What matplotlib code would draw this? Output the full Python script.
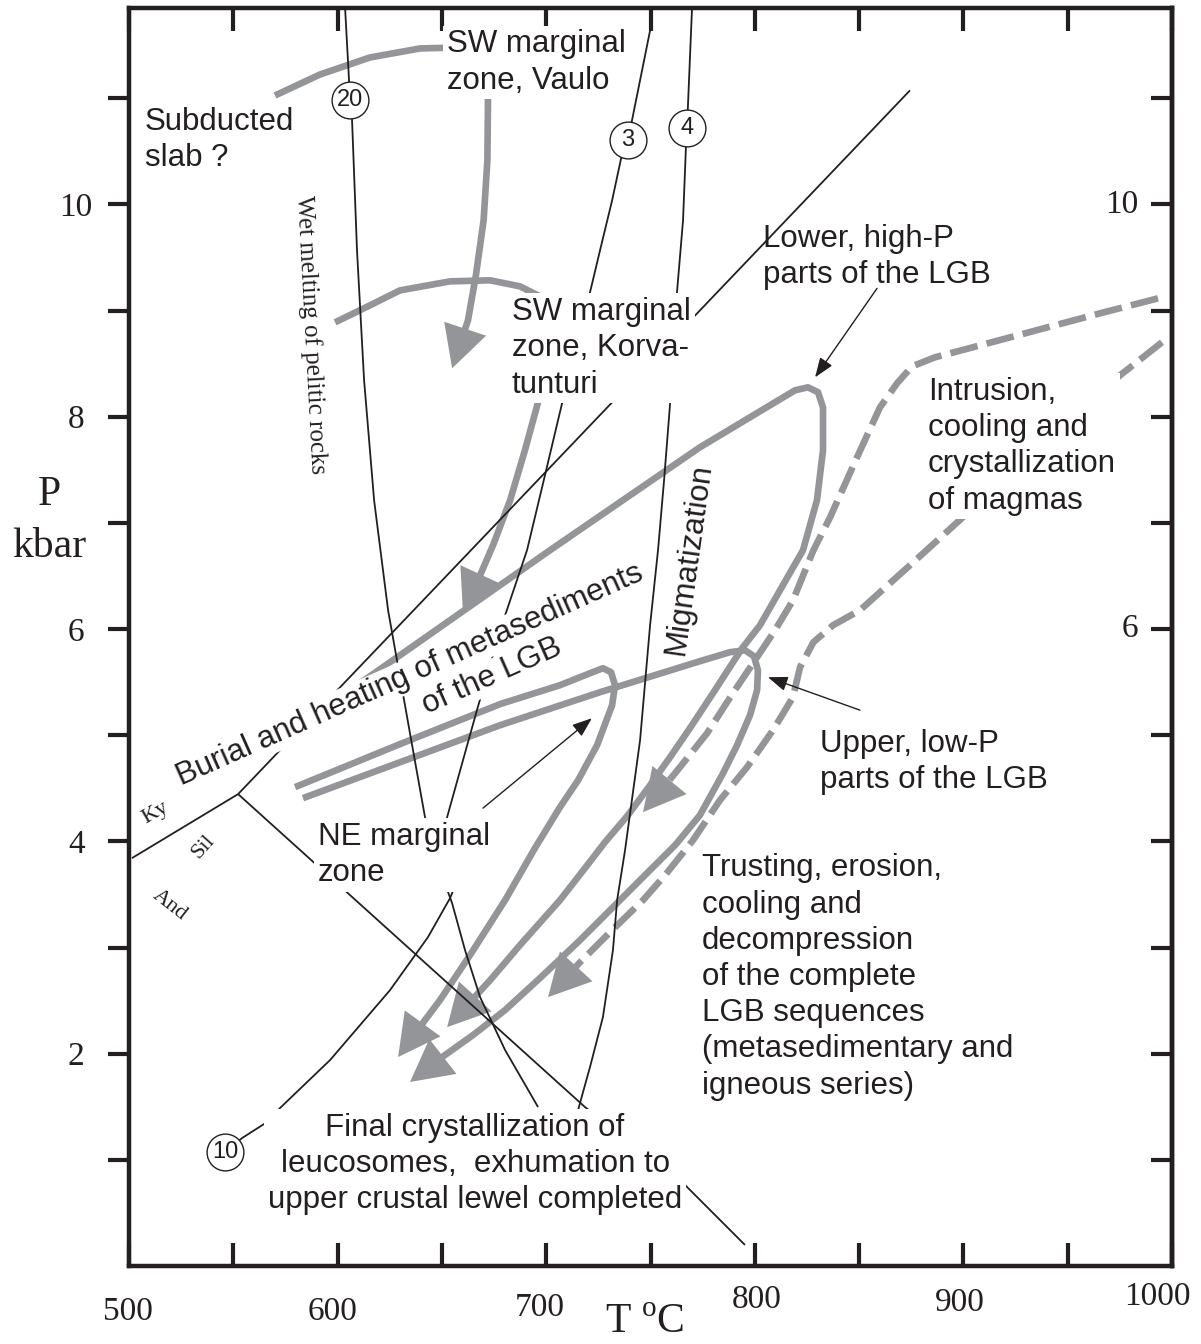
import numpy as np
import matplotlib
matplotlib.use("Agg")
import matplotlib.pyplot as plt
from matplotlib.transforms import blended_transform_factory

GRAY = "#939598"
INK = "#231f20"
SANS = ["Liberation Sans", "DejaVu Sans"]
SERIF = ["Liberation Serif", "DejaVu Serif"]
plt.rcParams["mathtext.fontset"] = "custom"
plt.rcParams["mathtext.rm"] = "Liberation Serif"

# ---------------- axes ----------------
T_MIN, T_MAX = 500, 1000
P_MIN, P_MAX = 0.0, 11.85
x_major = [500, 600, 700, 800, 900, 1000]
x_minor = [550, 650, 750, 850, 950]
x_labels = ["500", "600", "700", "800", "900", "1000"]
x_label_T = [499.5, 597.8, 697.0, 801.1, 898.4, 992.8]       # hand-lettered label positions
x_label_fy = [0.0238, 0.0238, 0.0268, 0.0327, 0.0305, 0.0350]  # figure fraction (label centres)
y_major = [2, 4, 6, 8, 10]
y_minor = [1, 3, 5, 7, 9, 11]
right_ticks = [1, 2, 3, 4, 5, 6, 7, 8, 9, 10, 11]
right_labels = ["10", "6"]
right_label_P = [10.0, 6.0]
right_label_x = [0.952, 0.960]

# ---------------- black reaction lines (T degC, P kbar) ----------------
line20_T = [603.6, 606.0, 606.9, 609.3, 612.7, 617.5, 624.2, 634.7, 641.9, 649.1, 654.9, 661.1, 668.3, 680.3, 696.1]
line20_P = [11.846, 10.979, 10.810, 9.567, 8.343, 7.213, 6.177, 5.018, 4.228, 3.729, 3.417, 2.975, 2.533, 2.034, 1.497]
line3_T = [749.8, 739.2, 735.9, 731.6, 725.8, 721.0, 714.3, 707.6, 699.4, 690.8, 677.9, 666.8, 652.5, 649.1]
line3_P = [11.638, 10.603, 10.433, 10.038, 9.567, 9.172, 8.625, 8.126, 7.448, 6.742, 5.989, 5.236, 4.228, 3.823]
line4_T = [769.9, 767.5, 767.0, 765.6, 762.7, 760.8, 759.4, 756.5, 753.6, 749.8, 745.0, 737.8, 734.0, 732.0, 727.2, 721.0, 716.2, 715.3]
line4_P = [11.846, 10.716, 10.546, 9.850, 9.172, 8.625, 8.126, 7.401, 6.742, 6.036, 4.952, 3.917, 3.446, 2.975, 2.345, 1.874, 1.535, 1.469]
line10_T = [546.0, 554.2, 566.2, 572.4, 596.4, 625.1, 643.3, 653.9, 659.6]
line10_P = [1.073, 1.205, 1.356, 1.488, 1.940, 2.598, 3.097, 3.465, 3.729]
ky_and_T = [501.4, 552.3]
ky_and_P = [3.842, 4.445]
ky_sil_T = [552.3, 874.4]
ky_sil_P = [4.445, 11.074]
sil_and_T = [552.3, 718.6, 765.6, 795.3]
sil_and_P = [4.445, 1.497, 0.782, 0.198]

circle_labels = ["20", "3", "4", "10"]
circle_T = [606.0, 739.2, 767.5, 546.0]
circle_P = [10.979, 10.603, 10.716, 1.073]

# ---------------- grey P-T paths ----------------
vaulo_T = [570.0, 591.6, 615.5, 639.5, 658.7, 669.7, 672.1, 671.8, 670.0, 666.3, 662.5]
vaulo_P = [11.026, 11.224, 11.384, 11.469, 11.478, 11.337, 10.979, 10.414, 9.850, 9.332, 8.908]
vaulo_tip = (654.9, 8.456)

korva_T = [598.8, 615.5, 629.9, 653.9, 673.1, 687.4, 697.0, 703.3, 702.8, 697.0, 689.8, 682.7, 674.5, 668.3]
korva_P = [8.889, 9.049, 9.190, 9.275, 9.285, 9.228, 9.134, 8.908, 8.531, 8.202, 7.684, 7.213, 6.789, 6.507]
korva_tip = (660.1, 6.158)

highP_T = [582.0, 701.8, 773.7, 809.7, 819.3, 825.5, 830.3, 832.7, 832.7, 829.8, 823.1, 812.1, 802.5,
           793.9, 780.9, 768.9, 759.4, 749.8, 739.2, 728.2, 718.6, 706.6, 687.4, 673.1, 663.5]
highP_P = [5.094, 6.742, 7.712, 8.136, 8.249, 8.277, 8.230, 8.088, 7.684, 7.213, 6.742, 6.366, 6.036,
           5.819, 5.424, 5.066, 4.793, 4.529, 4.247, 3.993, 3.748, 3.446, 3.022, 2.692, 2.486]
highP_tip = (652.5, 2.250)

lowP_T = [583.4, 677.9, 725.8, 773.7, 788.1, 795.3, 799.6, 801.5, 801.1, 797.7, 791.5, 784.8, 773.7,
          761.8, 749.8, 735.4, 716.2, 697.0, 680.3, 664.9, 650.1]
lowP_P = [4.407, 5.094, 5.405, 5.697, 5.782, 5.800, 5.744, 5.612, 5.424, 5.188, 4.906, 4.642, 4.247,
          3.964, 3.729, 3.446, 3.069, 2.712, 2.411, 2.175, 1.968]
lowP_tip = (634.7, 1.733)

ne_T = [579.6, 629.9, 677.9, 706.6, 721.0, 727.2, 731.1, 733.0, 731.6, 724.4, 715.3, 706.6, 694.6,
        680.3, 663.5, 649.1, 641.9]
ne_P = [4.511, 4.916, 5.293, 5.471, 5.584, 5.631, 5.593, 5.471, 5.283, 4.906, 4.576, 4.322, 3.936,
        3.446, 2.929, 2.505, 2.316]
ne_tip = (629.0, 1.968)

inner_T = [993.3, 965.5, 936.7, 908.0, 886.4, 875.4, 868.2, 860.0, 849.0, 836.1, 828.1, 818.3, 809.7,
           801.1, 789.5, 777.1, 761.8]
inner_P = [9.115, 8.974, 8.823, 8.672, 8.560, 8.474, 8.315, 8.088, 7.617, 7.053, 6.742, 6.271, 5.989,
           5.735, 5.396, 5.018, 4.642]
inner_tip = (746.4, 4.275)

outer_T = [995.2, 975.1, 936.7, 900.8, 874.4, 850.4, 837.5, 828.1, 821.7, 818.3, 808.7, 796.3, 783.3,
           770.4, 757.0, 746.4, 730.6, 716.2]
outer_P = [8.701, 8.390, 7.712, 7.072, 6.601, 6.177, 6.036, 5.876, 5.641, 5.358, 5.047, 4.699, 4.388,
           4.011, 3.682, 3.446, 3.144, 2.861]
outer_tip = (700.9, 2.533)

# ---------------- pointer arrows ----------------
ptr_from_T = [858.6, 850.4, 669.7]
ptr_from_P = [9.209, 5.236, 4.313]
ptr_to_T = [828.9, 806.3, 721.9]
ptr_to_P = [8.371, 5.546, 5.160]

# ---------------- labels ----------------
label_texts = ["SW marginal\nzone, Vaulo", "Subducted\nslab ?", "SW marginal\nzone, Korva-\ntunturi",
               "Lower, high-P\nparts of the LGB", "Intrusion,\ncooling and\ncrystallization\nof magmas",
               "Upper, low-P\nparts of the LGB", "NE marginal\nzone",
               "Trusting, erosion,\ncooling and\ndecompression\nof the complete\nLGB sequences\n(metasedimentary and\nigneous series)"]
label_T = [652.5, 507.7, 683.6, 803.9, 883.0, 831.3, 590.6, 774.7]
label_P = [11.337, 10.603, 8.644, 9.501, 7.721, 4.746, 3.870, 2.722]
label_box = [True, False, True, False, True, False, True, False]

final_text = "Final crystallization of\nleucosomes,  exhumation to\nupper crustal lewel completed"
final_T, final_P = 665.9, 0.960

burial_texts = ["Burial and heating of metasediments", "of the LGB"]
burial_T = [634.7, 674.0]
burial_P = [5.565, 5.556]
burial_rot = 24

serif_texts = ["Wet melting of pelitic rocks", "Ky", "Sil", "And"]
serif_T = [587.3, 512.5, 535.5, 519.7]
serif_P = [8.776, 4.266, 3.945, 3.399]
serif_rot = [-87, 30, 48, -38]
serif_size = [18, 16, 16, 16]

# ---------------- figure ----------------
fig = plt.figure(figsize=(12.01, 13.44), dpi=100)
ax = fig.add_axes([129 / 1201, 78 / 1344, 1043 / 1201, 1258 / 1344])
ax.set_xlim(T_MIN, T_MAX)
ax.set_ylim(P_MIN, P_MAX)
for s in ax.spines.values():
    s.set_linewidth(3.2)
    s.set_color(INK)

ax.set_xticks(x_major)
ax.set_xticks(x_minor, minor=True)
ax.set_yticks(y_major)
ax.set_yticks(y_minor, minor=True)
ax.set_yticklabels([str(v) for v in y_major])
ax.tick_params(axis="x", which="both", direction="in", top=True, bottom=True, length=16.5, width=3,
               color=INK, labelbottom=False)
ax.tick_params(axis="y", which="both", direction="out", left=True, right=False, length=15, width=3,
               color=INK, pad=23, labelsize=24, labelcolor=INK, labelfontfamily="Liberation Serif")
for t in ax.yaxis.get_major_ticks():
    t.label1.set_horizontalalignment("center")

sec = ax.secondary_yaxis("right")
sec.set_yticks(right_ticks)
sec.set_yticklabels([])
sec.tick_params(direction="in", length=15, width=3, color=INK)
sec.spines["right"].set_linewidth(3.2)
sec.spines["right"].set_color(INK)

xtrans = blended_transform_factory(ax.transData, fig.transFigure)
for lab, t, fy in zip(x_labels, x_label_T, x_label_fy):
    ax.text(t, fy, lab, transform=xtrans, ha="center", va="center", fontsize=24, family=SERIF,
            color=INK, clip_on=False)

trans = blended_transform_factory(ax.transAxes, ax.transData)
for lab, p, xx in zip(right_labels, right_label_P, right_label_x):
    ax.text(xx, p, lab, transform=trans, ha="center", va="center", fontsize=24, family=SERIF, color=INK)

fig.text(49 / 1201, 1 - 505 / 1344, "P", ha="center", va="baseline", fontsize=30, family=SERIF, color=INK)
fig.text(49 / 1201, 1 - 557 / 1344, "kbar", ha="center", va="baseline", fontsize=30, family=SERIF, color=INK)
fig.text(645 / 1201, 1 - 1333 / 1344, r"T $^{\mathrm{o}}$C", ha="center", va="baseline", fontsize=30,
         family=SERIF, color=INK)

# grey paths
def draw_path(T, P, tip=None, dashed=False):
    T = np.asarray(T, float)
    P = np.asarray(P, float)
    if tip is not None:
        T = np.append(T, (T[-1] + tip[0]) / 2)
        P = np.append(P, (P[-1] + tip[1]) / 2)
    ls = (0, (4.2, 1.4)) if dashed else "-"
    ax.plot(T, P, color=GRAY, lw=4.8, ls=ls, solid_capstyle="butt", dash_capstyle="butt",
            solid_joinstyle="round", zorder=2)
    if tip is not None:
        ax.annotate("", xy=tip, xytext=(T[-2], P[-2]),
                    arrowprops=dict(arrowstyle="-|>,head_length=1.0,head_width=0.53", mutation_scale=30,
                                    facecolor=GRAY, edgecolor="none", lw=0, shrinkA=0, shrinkB=0),
                    zorder=2)

draw_path(vaulo_T, vaulo_P, vaulo_tip)
draw_path(korva_T, korva_P, korva_tip)
draw_path(highP_T, highP_P, highP_tip)
draw_path(lowP_T, lowP_P, lowP_tip)
draw_path(ne_T, ne_P, ne_tip)
draw_path(inner_T, inner_P, inner_tip, dashed=True)
draw_path(outer_T, outer_P, outer_tip, dashed=True)

# black lines
for T, P in [(line20_T, line20_P), (line3_T, line3_P), (line4_T, line4_P), (line10_T, line10_P),
             (ky_and_T, ky_and_P), (ky_sil_T, ky_sil_P), (sil_and_T, sil_and_P)]:
    ax.plot(T, P, color=INK, lw=1.3, zorder=3, solid_capstyle="butt")

for ft, fp, tt, tp in zip(ptr_from_T, ptr_from_P, ptr_to_T, ptr_to_P):
    ax.annotate("", xy=(tt, tp), xytext=(ft, fp),
                arrowprops=dict(arrowstyle="-|>,head_length=0.8,head_width=0.3", mutation_scale=15,
                                color=INK, lw=1.0, shrinkA=0, shrinkB=0), zorder=3)

ax.plot(circle_T, circle_P, "o", ms=26.5, mfc="white", mec=INK, mew=1.0, ls="none", zorder=4)
for lab, t, p in zip(circle_labels, circle_T, circle_P):
    ax.text(t, p, lab, ha="center", va="center", fontsize=17, family=SANS, color=INK, zorder=5)

box = dict(boxstyle="square,pad=0.12", fc="white", ec="none")
for txt, t, p, b in zip(label_texts, label_T, label_P, label_box):
    ax.text(t, p, txt, ha="left", va="center", fontsize=22.5, family=SANS, color=INK, linespacing=1.27,
            bbox=box if b else None, zorder=6)

ax.text(final_T, final_P, final_text, ha="center", va="center", multialignment="center", fontsize=22.5,
        family=SANS, color=INK, linespacing=1.27, bbox=box, zorder=6)

for txt, t, p in zip(burial_texts, burial_T, burial_P):
    ax.text(t, p, txt, ha="center", va="center", rotation=burial_rot, fontsize=22.5, family=SANS,
            color=INK, bbox=dict(boxstyle="square,pad=0.05", fc="white", ec="none"), zorder=6)

ax.text(768.4, 6.657, "Migmatization", ha="center", va="center", rotation=82, fontsize=22.5, family=SANS,
        color=INK, zorder=6)

for txt, t, p, r, s in zip(serif_texts, serif_T, serif_P, serif_rot, serif_size):
    ax.text(t, p, txt, ha="center", va="center", rotation=r, fontsize=s, family=SERIF, color=INK, zorder=6)

fig.savefig("out.png", dpi=100)
